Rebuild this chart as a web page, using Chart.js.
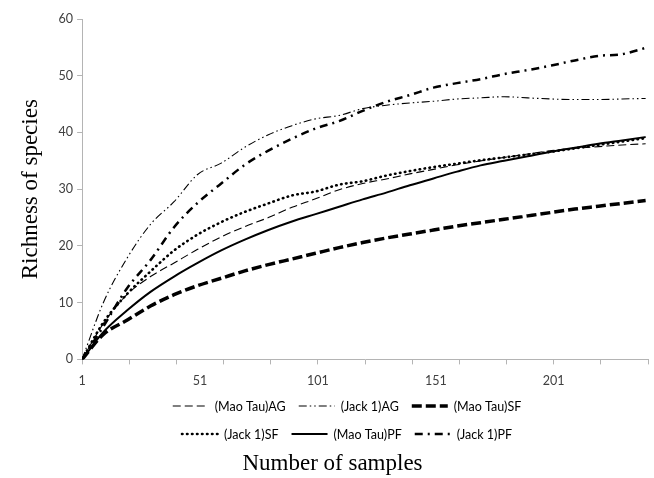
<!DOCTYPE html>
<html>
<head>
<meta charset="utf-8">
<script src="https://cdn.jsdelivr.net/npm/chart.js@4.4.1/dist/chart.umd.min.js"></script>
<style>
  html, body { margin: 0; padding: 0; background: #fff; }
  #wrap { width: 654px; height: 478px; position: relative; }
</style>
</head>
<body>
<div id="wrap"><canvas id="richnessChart"></canvas></div>
<script>
// --- DATA ---
const samples   = [1, 10, 20, 30, 40, 50, 60, 70, 80, 90, 100, 110, 120, 130, 140, 150, 160, 170, 180, 190, 200, 210, 220, 230, 240];
const maoTauAG  = [0, 6.3, 11.4, 14.6, 17.0, 19.4, 21.6, 23.4, 25.0, 26.8, 28.3, 29.9, 31.0, 31.8, 32.7, 33.5, 34.3, 35.0, 35.6, 36.2, 36.8, 37.2, 37.5, 37.8, 38.0];
const jack1AG   = [0, 10.0, 17.8, 23.8, 27.8, 32.6, 34.6, 37.4, 39.6, 41.2, 42.4, 43.0, 44.2, 44.8, 45.2, 45.5, 45.9, 46.1, 46.3, 46.1, 45.9, 45.8, 45.8, 45.9, 46.0];
const maoTauSF  = [0, 4.4, 6.9, 9.4, 11.4, 13.0, 14.3, 15.6, 16.7, 17.7, 18.7, 19.7, 20.6, 21.4, 22.1, 22.8, 23.5, 24.1, 24.7, 25.3, 25.9, 26.5, 27.0, 27.5, 28.0];
const jack1SF   = [0, 6.5, 11.5, 15.5, 19.2, 22.0, 24.2, 26.0, 27.5, 28.9, 29.6, 30.8, 31.4, 32.4, 33.2, 33.9, 34.5, 35.1, 35.6, 36.1, 36.6, 37.2, 37.8, 38.4, 39.0];
const maoTauPF  = [0, 4.8, 8.6, 11.9, 14.6, 17.0, 19.2, 21.1, 22.8, 24.3, 25.6, 26.9, 28.2, 29.4, 30.7, 31.9, 33.1, 34.2, 35.0, 35.8, 36.6, 37.3, 38.0, 38.6, 39.2];
const jack1PF   = [0, 5.8, 12.5, 17.5, 23.3, 27.6, 31.0, 34.3, 36.8, 38.9, 40.7, 42.0, 43.8, 45.4, 46.6, 47.9, 48.7, 49.4, 50.3, 51.0, 51.8, 52.7, 53.5, 53.8, 54.9];

const xLabelTicks = [1, 51, 101, 151, 201];
const xMarkTicks  = [1, 21, 41, 61, 81, 101, 121, 141, 161, 181, 201, 221, 241];
const yTicks      = [0, 10, 20, 30, 40, 50, 60];

const toPoints = vals => vals.map((v, i) => ({ x: samples[i], y: v }));

function line(label, vals, width, dash, cap) {
  return {
    label: label,
    data: toPoints(vals),
    borderColor: '#000',
    backgroundColor: '#000',
    borderWidth: width,
    borderDash: dash,
    borderCapStyle: cap || 'butt',
    pointRadius: 0,
    fill: false,
    cubicInterpolationMode: 'monotone'
  };
}

// --- LEGEND: 3 items per row, drawn between tick labels and axis title ---
const gridLegend = {
  id: 'gridLegend',
  afterDraw(chart) {
    const ctx = chart.ctx;
    const sets = chart.data.datasets;
    const rows = [[0, 1, 2], [3, 4, 5]];
    const rowY = [406, 434];
    const sampleW = 36, gap = 6, itemGap = 13, centerX = 347;
    ctx.save();
    ctx.font = '12.5px Lato';
    ctx.textBaseline = 'middle';
    ctx.fillStyle = '#000';
    rows.forEach((row, r) => {
      const widths = row.map(i => sampleW + gap + ctx.measureText(sets[i].label).width);
      const total = widths.reduce((a, b) => a + b, 0) + itemGap * (row.length - 1);
      let x = centerX - total / 2;
      row.forEach((i, k) => {
        const ds = sets[i];
        ctx.strokeStyle = '#000';
        ctx.lineWidth = ds.borderWidth;
        ctx.lineCap = ds.borderCapStyle;
        ctx.setLineDash(ds.borderDash || []);
        ctx.beginPath();
        ctx.moveTo(x, rowY[r]);
        ctx.lineTo(x + sampleW, rowY[r]);
        ctx.stroke();
        ctx.setLineDash([]);
        ctx.fillText(ds.label, x + sampleW + gap, rowY[r] + 1);
        x += widths[k] + itemGap;
      });
    });
    ctx.restore();
  }
};

function initChart() {
  const ctx = document.getElementById('richnessChart').getContext('2d');
  new Chart(ctx, {
    type: 'line',
    data: {
      datasets: [
        line('(Mao Tau)AG', maoTauAG, 1.1, [8, 4]),
        line('(Jack 1)AG', jack1AG, 1.1, [8, 3, 1.5, 3, 1.5, 3]),
        line('(Mao Tau)SF', maoTauSF, 3.5, [10, 4]),
        line('(Jack 1)SF', jack1SF, 2.6, [0.5, 4.5], 'round'),
        line('(Mao Tau)PF', maoTauPF, 2, []),
        line('(Jack 1)PF', jack1PF, 2.5, [8, 5, 2, 5])
      ]
    },
    options: {
      responsive: true,
      maintainAspectRatio: false,
      animation: false,
      layout: { padding: { top: 19, right: 6, bottom: 0, left: 17 } },
      scales: {
        xMarks: {
          type: 'linear',
          position: 'bottom',
          weight: 0,
          min: 1,
          max: 241,
          afterBuildTicks: s => { s.ticks = xMarkTicks.map(v => ({ value: v })); },
          ticks: { display: false },
          grid: { drawOnChartArea: false, drawTicks: true, tickLength: 5, color: '#b4b4b4' },
          border: { display: true, color: '#b4b4b4' }
        },
        x: {
          type: 'linear',
          position: 'bottom',
          weight: 1,
          min: 1,
          max: 241,
          afterBuildTicks: s => { s.ticks = xLabelTicks.map(v => ({ value: v })); },
          ticks: { font: { family: 'Lato', size: 12.5 }, color: '#404040', padding: 1, maxRotation: 0 },
          grid: { display: false },
          border: { display: false }
        },
        y: {
          min: 0,
          max: 60,
          afterBuildTicks: s => { s.ticks = yTicks.map(v => ({ value: v })); },
          ticks: { font: { family: 'Lato', size: 12.5 }, color: '#404040', padding: 4 },
          grid: { drawOnChartArea: false, drawTicks: true, tickLength: 5, color: '#b4b4b4' },
          border: { display: true, color: '#b4b4b4' },
          title: {
            display: true,
            text: 'Richness of species',
            font: { family: 'Liberation Serif', size: 23 },
            color: '#000',
            padding: { top: 0, bottom: 10 }
          }
        }
      },
      plugins: {
        legend: { display: false },
        tooltip: { enabled: false },
        title: {
          display: true,
          position: 'bottom',
          text: 'Number of samples',
          font: { family: 'Liberation Serif', size: 23, weight: 'normal' },
          color: '#000',
          padding: { top: 61, bottom: 0 }
        }
      }
    },
    plugins: [gridLegend]
  });
}

window.addEventListener('load', initChart);
</script>
</body>
</html>
